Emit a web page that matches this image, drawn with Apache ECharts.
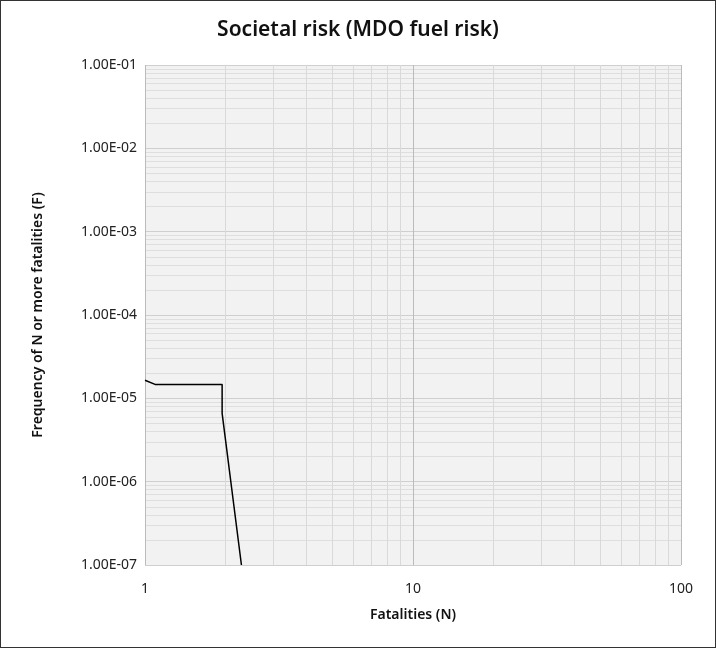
<!DOCTYPE html>
<html style="height: 100%">
<head><meta charset="utf-8"></head>
<body style="height: 100%; margin: 0">
<div id="container" style="width:714px;height:646px;border:1px solid #333"></div>
<script src="https://cdn.jsdelivr.net/npm/echarts@6/dist/echarts.min.js"></script>
<script>
var fatalities = [1, 1.09, 1.94, 1.94, 2.29];
var frequency = [1.65e-5, 1.47e-5, 1.47e-5, 6.6e-6, 1.0e-7];

var chart = echarts.init(document.getElementById('container'));
var font = 'Noto Sans';
function sci(v) {
    var e = Math.round(Math.log10(v));
    var m = (v / Math.pow(10, e)).toFixed(2);
    var s = e < 0 ? '-' : '+';
    var a = Math.abs(e);
    return m + 'E' + s + (a < 10 ? '0' + a : a);
}
chart.setOption({
    animation: false,
    textStyle: {fontFamily: font},
    title: {
        text: 'Societal risk (MDO fuel risk)', left: 'center', top: 14,
        textStyle: {fontSize: 21, fontWeight: 600, color: '#111', fontFamily: font}
    },
    grid: {left: 144, right: 34, top: 64, bottom: 82, backgroundColor: '#f2f2f2', show: true, borderWidth: 0},
    xAxis: {
        type: 'log', logBase: 10, min: 1, max: 100,
        name: 'Fatalities (N)', nameLocation: 'middle', nameGap: 43,
        nameTextStyle: {fontSize: 14, fontWeight: 600, color: '#111'},
        axisLine: {show: false}, axisTick: {show: false},
        axisLabel: {fontSize: 14, color: '#222', margin: 17},
        splitLine: {lineStyle: {color: '#bbb'}},
        minorTick: {show: false, splitNumber: 9},
        minorSplitLine: {show: true, lineStyle: {color: '#d9d9d9'}}
    },
    yAxis: {
        type: 'log', logBase: 10, min: 1e-7, max: 0.1,
        name: 'Frequency of N or more fatalities (F)', nameLocation: 'middle', nameGap: 100,
        nameTextStyle: {fontSize: 14, fontWeight: 600, color: '#111'},
        axisLine: {show: false}, axisTick: {show: false},
        axisLabel: {fontSize: 14, color: '#222', formatter: sci},
        splitLine: {lineStyle: {color: '#cfcfcf'}},
        minorTick: {show: false, splitNumber: 9},
        minorSplitLine: {show: true, lineStyle: {color: '#dedede'}}
    },
    series: [{
        type: 'line', showSymbol: false, clip: true,
        lineStyle: {color: '#000', width: 1.5},
        data: fatalities.map(function (n, i) { return [n, frequency[i]]; })
    }]
});
</script>
</body>
</html>
